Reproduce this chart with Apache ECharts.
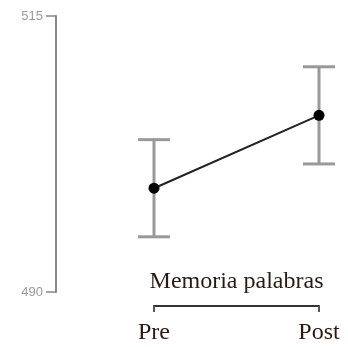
<!DOCTYPE html>
<html>
<head>
<meta charset="utf-8">
<script src="https://cdn.jsdelivr.net/npm/echarts@6/dist/echarts.min.js"></script>
<style>
  html, body { margin: 0; padding: 0; background: #fff; }
  #chart { width: 348px; height: 347px; }
</style>
</head>
<body>
<div id="chart"></div>
<script>
// Word memory score, before and after
const categories = ['Pre', 'Post'];
const means = [499.4, 506.0];
const lower = [495.0, 501.6];
const upper = [503.8, 510.4];
const yTicks = [490, 515];
const axisTitle = 'Memoria palabras';

const chart = echarts.init(document.getElementById('chart'));

const errorData = categories.map((c, i) => [i, lower[i], upper[i]]);

chart.setOption({
  animation: false,
  backgroundColor: '#fff',
  grid: { left: 154, right: 29, top: 16, bottom: 55, containLabel: false },
  xAxis: {
    type: 'category',
    data: categories,
    boundaryGap: false,
    offset: 14,
    axisLine: { show: true, lineStyle: { color: '#333', width: 2 } },
    axisTick: { show: true, length: 6, lineStyle: { color: '#555', width: 2 } },
    axisLabel: {
      margin: 15,
      fontFamily: 'Liberation Serif',
      fontSize: 24,
      color: '#2a1a10'
    },
    name: axisTitle,
    nameLocation: 'middle',
    nameGap: -36,
    nameTextStyle: {
      fontFamily: 'Liberation Serif',
      fontSize: 24,
      color: '#2a1a10'
    }
  },
  yAxis: {
    type: 'value',
    min: yTicks[0],
    max: yTicks[1],
    interval: yTicks[1] - yTicks[0],
    position: 'left',
    offset: 98,
    axisLine: { show: true, lineStyle: { color: '#888', width: 2 } },
    axisTick: { show: true, length: 10, lineStyle: { color: '#888', width: 1.5 } },
    axisLabel: {
      margin: 13,
      fontFamily: 'Liberation Sans',
      fontSize: 13,
      color: '#999'
    },
    splitLine: { show: false }
  },
  series: [
    {
      type: 'custom',
      clip: false,
      data: errorData,
      encode: { x: 0, y: [1, 2] },
      renderItem: function (params, api) {
        const x = api.value(0);
        const lo = api.coord([x, api.value(1)]);
        const hi = api.coord([x, api.value(2)]);
        const hw = 16;
        const style = { stroke: '#999', lineWidth: 3, fill: null };
        return {
          type: 'group',
          children: [
            { type: 'line', shape: { x1: lo[0], y1: lo[1], x2: hi[0], y2: hi[1] }, style: style },
            { type: 'line', shape: { x1: lo[0] - hw, y1: lo[1], x2: lo[0] + hw, y2: lo[1] }, style: style },
            { type: 'line', shape: { x1: hi[0] - hw, y1: hi[1], x2: hi[0] + hw, y2: hi[1] }, style: style }
          ]
        };
      },
      z: 1
    },
    {
      type: 'line',
      data: means,
      symbol: 'circle',
      symbolSize: 11,
      itemStyle: { color: '#000' },
      lineStyle: { color: '#222', width: 2 },
      z: 3
    }
  ]
});
</script>
</body>
</html>
